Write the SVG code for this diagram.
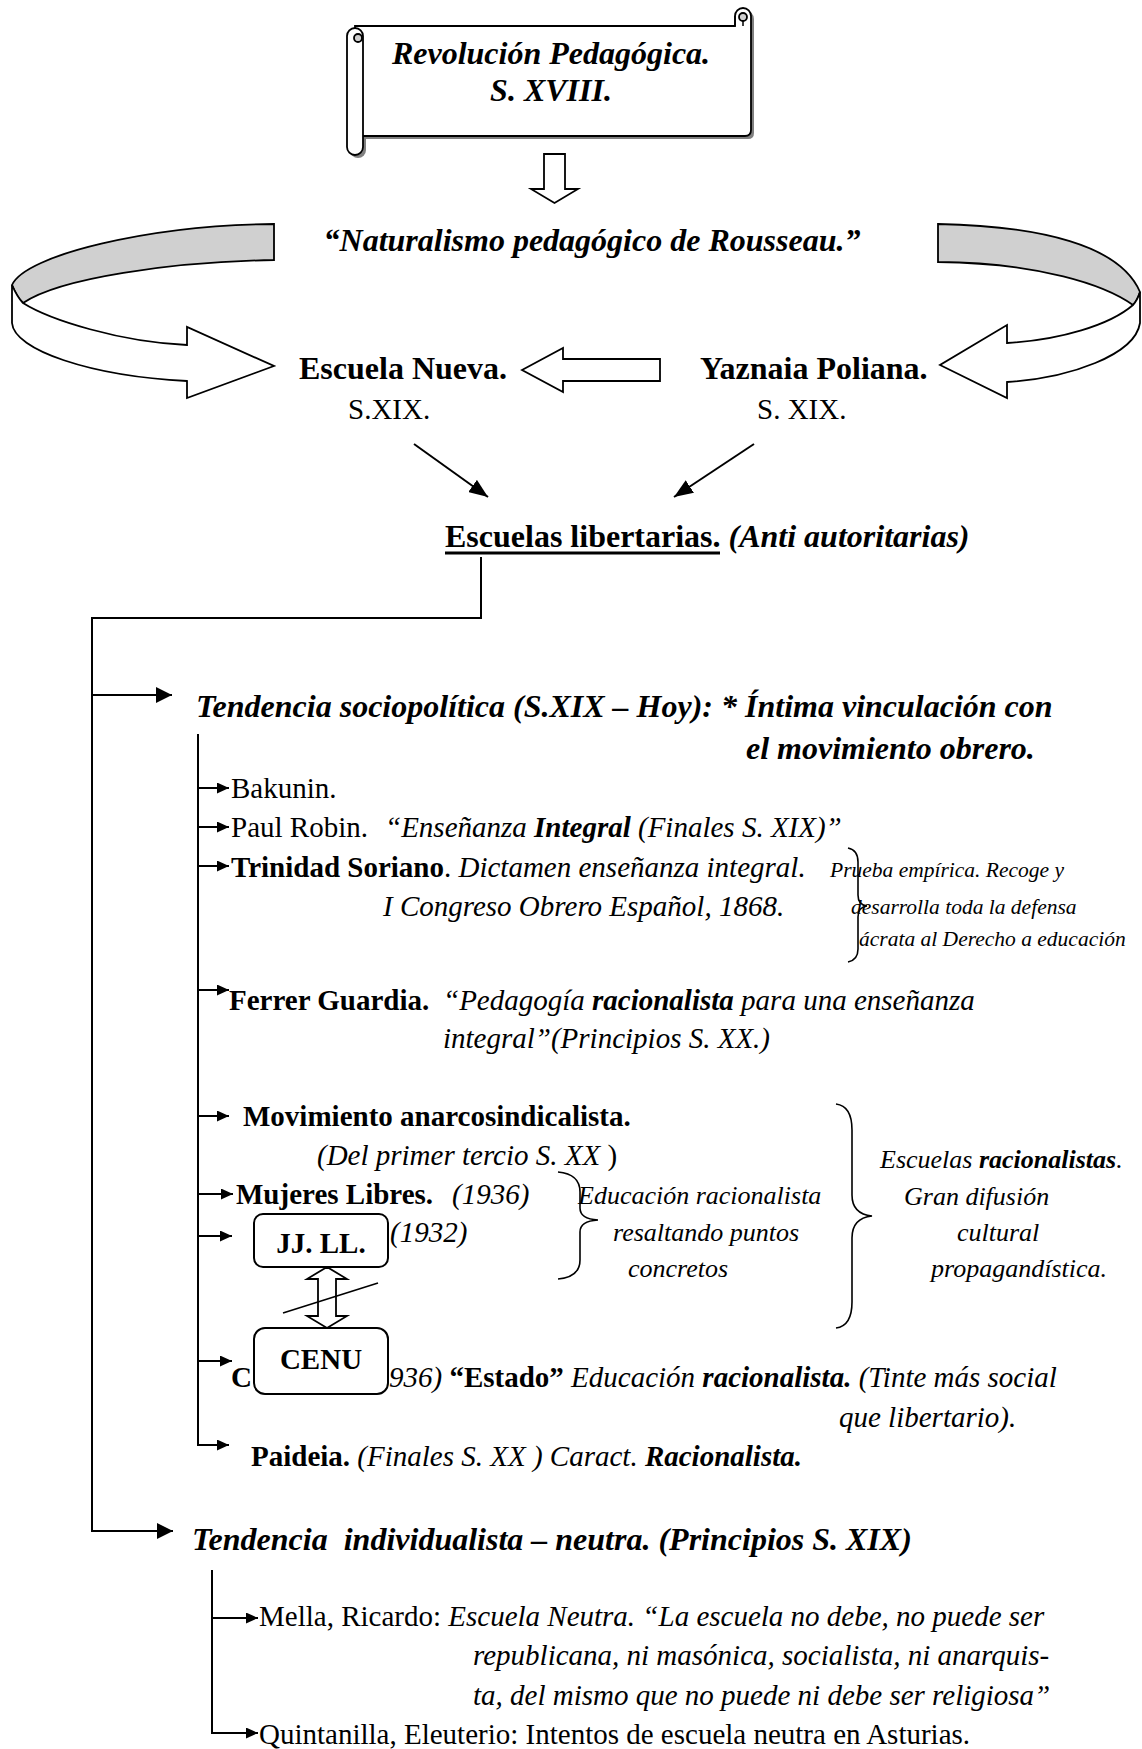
<svg xmlns="http://www.w3.org/2000/svg" width="1142" height="1749" viewBox="0 0 1142 1749">
<style>
.t{font-family:"Liberation Serif","Times New Roman",serif;fill:#000;white-space:pre}
.b{font-weight:bold}.i{font-style:italic}
.s32{font-size:32px}.s29{font-size:29px}.s26{font-size:26px}.s21{font-size:21.5px}
.ln{stroke:#000;stroke-width:2;fill:none}
.sh{fill:#fff;stroke:#000;stroke-width:1.8}
.gr{fill:#d0d0d0;stroke:#000;stroke-width:1.8}
.box{fill:#fff;stroke:#000;stroke-width:2}
</style>
<defs>
<marker id="am" viewBox="0 0 10 10" refX="10" refY="5" markerWidth="16" markerHeight="16" markerUnits="userSpaceOnUse" orient="auto" preserveAspectRatio="none"><path d="M0,0 L10,5 L0,10 Z" fill="#000"/></marker>
<marker id="as" viewBox="0 0 10 10" refX="10" refY="5" markerWidth="12" markerHeight="11" markerUnits="userSpaceOnUse" orient="auto" preserveAspectRatio="none"><path d="M0,0 L10,5 L0,10 Z" fill="#000"/></marker>
<marker id="ad" viewBox="0 0 10 10" refX="10" refY="5" markerWidth="19" markerHeight="15" markerUnits="userSpaceOnUse" orient="auto" preserveAspectRatio="none"><path d="M0,0 L10,5 L0,10 Z" fill="#000"/></marker>
</defs>

<g id="scroll">
  <g transform="translate(3,3)" fill="#808080">
    <path d="M355,26 H735 V16 A8,8 0 0 1 751,16 V130 Q751,136 745,136 H355 Z"/>
    <path d="M347,36 A8,8 0 0 1 363,36 V147 A8,8 0 0 1 347,147 Z"/>
  </g>
  <path class="sh" d="M355,26 H735 V16 A8,8 0 0 1 751,16 V130 Q751,136 745,136 H355 Z"/>
  <circle cx="743" cy="17" r="4" class="gr"/>
  <path class="ln" style="stroke-width:1.5" d="M743,21 V26 M735,16 V26"/>
  <path class="sh" d="M347,36 A8,8 0 0 1 363,36 V147 A8,8 0 0 1 347,147 Z"/>
  <circle cx="358" cy="38" r="4" class="gr"/>
  <text class="t b i s32" x="551" y="64" text-anchor="middle">Revolución Pedagógica.</text>
  <text class="t b i s32" x="551" y="101" text-anchor="middle">S. XVIII.</text>
</g>

<g id="naturalismo">
  <text class="t b i s32" x="592" y="251" text-anchor="middle">“Naturalismo pedagógico de Rousseau.”</text>
</g>

<g id="escuela-nueva">
  <text class="t b s32" x="299" y="379">Escuela Nueva.</text>
  <text class="t s29" x="348" y="419">S.XIX.</text>
</g>

<g id="yaznaia">
  <text class="t b s32" x="700" y="379">Yaznaia Poliana.</text>
  <text class="t s29" x="757" y="419">S. XIX.</text>
</g>

<g id="escuelas-libertarias">
  <text class="t b s32" x="445" y="547">Escuelas libertarias.<tspan class="i"> (Anti autoritarias)</tspan></text>
  <line x1="445" y1="553" x2="720" y2="553" stroke="#000" stroke-width="2.8"/>
</g>

<g id="tendencia-sociopolitica">
  <text class="t b i s32" x="196" y="717">Tendencia sociopolítica (S.XIX – Hoy): * Íntima vinculación con</text>
  <text class="t b i s32" x="746" y="759">el movimiento obrero.</text>
</g>

<g id="bakunin"><text class="t s29" x="231" y="798">Bakunin.</text></g>
<g id="paul-robin"><text class="t s29" x="231" y="837">Paul Robin.<tspan class="i" x="385">“Enseñanza <tspan class="b">Integral</tspan> (Finales S. XIX)”</tspan></text></g>
<g id="trinidad">
  <text class="t s29" x="231" y="877"><tspan class="b">Trinidad Soriano</tspan>. <tspan class="i">Dictamen enseñanza integral.</tspan></text>
  <text class="t i s29" x="383" y="916">I Congreso Obrero Español, 1868.</text>
</g>
<g id="prueba">
  <path class="ln" style="stroke-width:1.6" d="M848,848 Q858,850 858,862 V895 Q858,905 867,906 Q858,907 858,917 V949 Q858,960 848,962"/>
  <text class="t i s21" x="830" y="877">Prueba empírica. Recoge y</text>
  <text class="t i s21" x="851" y="914">desarrolla toda la defensa</text>
  <text class="t i s21" x="859" y="946">ácrata al Derecho a educación</text>
</g>
<g id="ferrer">
  <text class="t s29" x="229" y="1010"><tspan class="b">Ferrer Guardia.</tspan><tspan class="i" x="443">“Pedagogía <tspan class="b">racionalista</tspan> para una enseñanza</tspan></text>
  <text class="t i s29" x="443" y="1048">integral”(Principios S. XX.)</text>
</g>
<g id="movimiento">
  <text class="t b s29" x="243" y="1126">Movimiento anarcosindicalista.</text>
  <text class="t s29" x="317" y="1165"><tspan class="i">(Del primer tercio S. XX</tspan> )</text>
</g>
<g id="mujeres">
  <text class="t s29" x="236" y="1204"><tspan class="b">Mujeres Libres.</tspan><tspan class="i" x="452">(1936)</tspan></text>
</g>
<g id="educacion-racionalista">
  <path class="ln" style="stroke-width:1.6" d="M558,1172 Q580,1174 580,1192 V1208 Q580,1219 598,1220 Q580,1221 580,1232 V1260 Q580,1277 558,1279"/>
  <text class="t i s26" x="578" y="1204">Educación racionalista</text>
  <text class="t i s26" x="613" y="1241">resaltando puntos</text>
  <text class="t i s26" x="628" y="1277">concretos</text>
</g>
<g id="escuelas-racionalistas">
  <path class="ln" style="stroke-width:1.6" d="M836,1104 Q852,1106 852,1130 V1195 Q852,1214 872,1216 Q852,1218 852,1238 V1302 Q852,1326 836,1328"/>
  <text class="t i s26" x="880" y="1168">Escuelas <tspan class="b">racionalistas</tspan>.</text>
  <text class="t i s26" x="904" y="1205">Gran difusión</text>
  <text class="t i s26" x="957" y="1241">cultural</text>
  <text class="t i s26" x="931" y="1277">propagandística.</text>
</g>
<g id="cenu-row">
  <text class="t b s29" x="231" y="1387">C</text>
  <text class="t i s29" x="389" y="1387">936) <tspan class="b" font-style="normal">“Estado”</tspan> Educación <tspan class="b">racionalista.</tspan> (Tinte más social</text>
  <text class="t i s29" x="839" y="1427">que libertario).</text>
</g>
<g id="jjll-year"><text class="t i s29" x="390" y="1242">(1932)</text></g>
<g id="jjll">
  <rect class="box" x="254" y="1214" width="134" height="53" rx="9"/>
  <text class="t b s29" x="321" y="1253" text-anchor="middle">JJ. LL.</text>
</g>
<g id="cenu">
  <rect class="box" x="254" y="1328" width="134" height="66" rx="11"/>
  <text class="t b s29" x="321" y="1369" text-anchor="middle">CENU</text>
</g>
<g id="paideia">
  <text class="t s29" x="251" y="1466"><tspan class="b">Paideia.</tspan><tspan class="i"> (Finales S. XX ) Caract. <tspan class="b">Racionalista.</tspan></tspan></text>
</g>
<g id="tendencia-individualista">
  <text class="t b i s32" x="192" y="1550">Tendencia  individualista – neutra. (Principios S. XIX)</text>
</g>
<g id="mella">
  <text class="t s29" x="259" y="1626">Mella, Ricardo: <tspan class="i">Escuela Neutra. “La escuela no debe, no puede ser</tspan></text>
  <text class="t i s29" x="473" y="1665">republicana, ni masónica, socialista, ni anarquis-</text>
  <text class="t i s29" x="473" y="1705">ta, del mismo que no puede ni debe ser religiosa”</text>
</g>
<g id="quintanilla">
  <text class="t s29" x="259" y="1744">Quintanilla, Eleuterio: Intentos de escuela neutra en Asturias.</text>
</g>

<g id="connectors">
  <path class="sh" d="M544,154 H565 V189 H578 L554.5,203 L531,189 H544 Z"/>
  <path class="gr" d="M274,224 C150,225 25,255 12,285 C15,292 18,298 23,303 C60,278 170,262 274,260 Z"/>
  <path class="sh" d="M12,285 L12,323 C14,350 90,376 187,381 L187,398 L274,366 L187,327 L187,345 C120,342 50,320 23,303 C18,298 15,292 12,285 Z"/>
  <path class="gr" d="M938,224 C1040,226 1120,245 1140,292 C1138,298 1136,302 1133,305 C1105,285 1040,263 938,262 Z"/>
  <path class="sh" d="M1140,292 L1140,323 C1135,355 1070,378 1007,382 L1007,398 L940,365 L1007,325 L1007,343 C1060,340 1110,325 1133,305 C1136,302 1138,298 1140,292 Z"/>
  <path class="sh" d="M522,370 L563,348 V359 H660 V381 H563 V392 Z"/>
  <line class="ln" x1="414" y1="444" x2="488" y2="497" marker-end="url(#ad)"/>
  <line class="ln" x1="754" y1="444" x2="674" y2="497" marker-end="url(#ad)"/>
  <path class="ln" d="M481,557 V618 H92 V1531 H173" marker-end="url(#am)"/>
  <path class="ln" d="M92,695 H172" marker-end="url(#am)"/>
  <path class="ln" d="M198,734 V1445 H229" marker-end="url(#as)"/>
  <path class="ln" d="M198,788 H229" marker-end="url(#as)"/>
  <path class="ln" d="M198,827 H229" marker-end="url(#as)"/>
  <path class="ln" d="M198,866 H229" marker-end="url(#as)"/>
  <path class="ln" d="M198,990 H229" marker-end="url(#as)"/>
  <path class="ln" d="M198,1116 H229" marker-end="url(#as)"/>
  <path class="ln" d="M198,1194 H233" marker-end="url(#as)"/>
  <path class="ln" d="M198,1236 H232" marker-end="url(#as)"/>
  <path class="ln" d="M198,1361 H232" marker-end="url(#as)"/>
  <path class="sh" d="M327,1267 L347,1279 H336 V1316 H347 L327,1328 L307,1316 H318 V1279 H307 Z"/>
  <line class="ln" style="stroke-width:1.6" x1="283" y1="1313" x2="378" y2="1283"/>
  <path class="ln" d="M212,1570 V1733 H258" marker-end="url(#as)"/>
  <path class="ln" d="M212,1618 H258" marker-end="url(#as)"/>
</g>
</svg>
